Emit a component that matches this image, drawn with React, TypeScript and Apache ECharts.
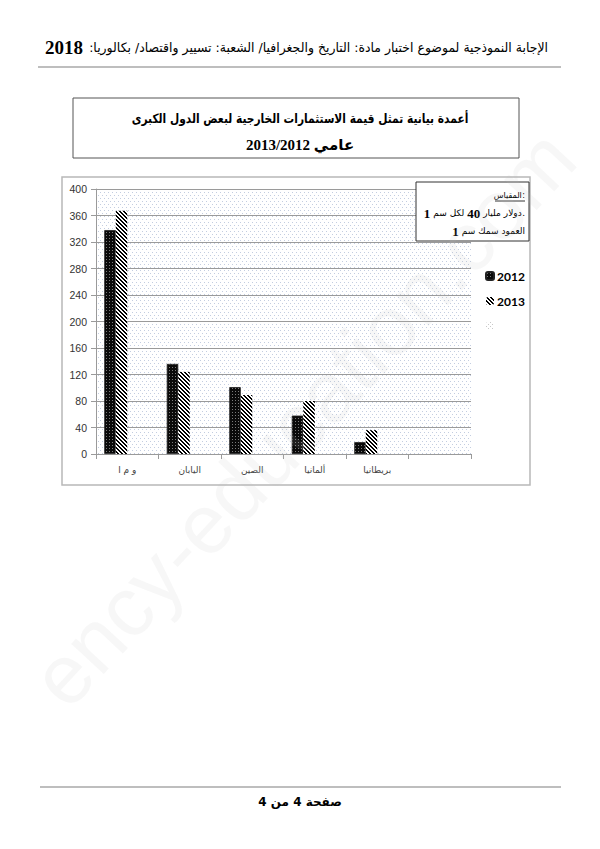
import React, { useEffect, useRef } from 'react';
import * as echarts from 'echarts';

const categories = ['و م ا', 'اليابان', 'الصين', 'ألمانيا', 'بريطانيا', ''];
const values2012 = [338, 136, 101, 58, 18, null];
const values2013 = [367, 124, 89, 80, 36, null];
const valuesBlank = [null, null, null, null, null, null];
const seriesNames = ['2012', '2013', ' '];
const yMin = 0;
const yMax = 400;
const yStep = 40;

const headerText = 'الإجابة النموذجية لموضوع اختبار مادة: التاريخ والجغرافيا/ الشعبة: تسيير واقتصاد/ بكالوريا:\u200F';
const headerYear = '2018';
const titleLine1 = 'أعمدة بيانية تمثل قيمة الاستثمارات الخارجية لبعض الدول الكبرى';
const titleLine2 = 'عامي 2013/2012';
const footerText = 'صفحة 4 من 4';
// scale box rows, tokens in visual left-to-right order
const scaleRow0 = ['المقياس', ':'];
const scaleRow1 = ['1', 'سم', 'لكل', '40', 'مليار', 'دولار', '.'];
const scaleRow2 = ['1', 'سم', 'سمك', 'العمود'];

const AR = '"DejaVu Sans"';
const SERIF = '"Liberation Serif"';

function makeCanvas(w: number, h: number, draw: (ctx: CanvasRenderingContext2D) => void) {
  const c = document.createElement('canvas');
  c.width = w;
  c.height = h;
  const ctx = c.getContext('2d')!;
  draw(ctx);
  return c;
}

function pattern(c: HTMLCanvasElement) {
  return { image: c, repeat: 'repeat', imageWidth: c.width, imageHeight: c.height } as any;
}

type Tok = { text: string; family: string; size: number; weight: string };

function rowElements(tokens: Tok[], right: number, y: number, gaps: number[], z: number) {
  const ctx = document.createElement('canvas').getContext('2d')!;
  const els: any[] = [];
  let x = right;
  for (let i = tokens.length - 1; i >= 0; i--) {
    const t = tokens[i];
    ctx.font = `${t.weight} ${t.size}px ${t.family}`;
    const w = ctx.measureText(t.text).width;
    x -= w;
    els.push({
      type: 'text', z, x, y,
      style: { text: t.text, align: 'left', verticalAlign: 'middle', fontFamily: t.family, fontSize: t.size, fontWeight: t.weight, fill: '#000' },
    });
    x -= gaps[i - 1] ?? 0;
  }
  return els;
}

function tok(text: string): Tok {
  const isNum = /^[0-9]+$/.test(text);
  return isNum
    ? { text, family: SERIF, size: 13, weight: 'bold' }
    : { text, family: AR, size: 9, weight: 'normal' };
}

export default function App() {
  const ref = useRef<HTMLDivElement>(null);

  useEffect(() => {
    const chart = echarts.init(ref.current!, null, { renderer: 'svg' });

    const bgDots = makeCanvas(4, 6, (ctx) => {
      ctx.fillStyle = '#ffffff';
      ctx.fillRect(0, 0, 4, 6);
      ctx.fillStyle = '#c3cde0';
      ctx.fillRect(0, 0, 1, 1);
      ctx.fillRect(2, 3, 1, 1);
    });
    const dark = makeCanvas(3, 3, (ctx) => {
      ctx.fillStyle = '#0a0a0a';
      ctx.fillRect(0, 0, 3, 3);
      ctx.fillStyle = '#7a7a7a';
      ctx.fillRect(1, 1, 1, 1);
    });
    const hatch = makeCanvas(4, 4, (ctx) => {
      ctx.fillStyle = '#ffffff';
      ctx.fillRect(0, 0, 4, 4);
      ctx.fillStyle = '#000000';
      for (let x = 0; x < 4; x++) {
        for (let y = 0; y < 4; y++) {
          const d = (((x - y) % 4) + 4) % 4;
          if (d < 2) ctx.fillRect(x, y, 1, 1);
        }
      }
    });
    const faint = makeCanvas(4, 4, (ctx) => {
      ctx.fillStyle = '#ffffff';
      ctx.fillRect(0, 0, 4, 4);
      ctx.fillStyle = '#c8c8c8';
      ctx.fillRect(0, 0, 1, 1);
      ctx.fillRect(2, 2, 1, 1);
    });

    const row0 = rowElements(
      [{ text: scaleRow0[0], family: AR, size: 8, weight: 'normal' }, { text: scaleRow0[1], family: AR, size: 8, weight: 'normal' }],
      525, 195, [0.5], 101
    );
    const row1 = rowElements(scaleRow1.map(tok), 525, 213, [3, 3, 3, 3, 3, 0.5], 101);
    const row2 = rowElements(scaleRow2.map(tok), 525, 231, [3, 3, 3], 101);

    const option: any = {
      animation: false,
      backgroundColor: '#ffffff',
      grid: {
        left: 96,
        top: 189,
        width: 375,
        height: 265,
        show: true,
        borderWidth: 0,
        backgroundColor: pattern(bgDots),
      },
      legend: {
        orient: 'vertical',
        left: 480,
        top: 265,
        itemWidth: 8,
        itemHeight: 8,
        itemGap: 13,
        data: seriesNames,
        textStyle: { fontFamily: 'Lato, "Liberation Sans", sans-serif', fontWeight: 'bold', fontSize: 12, color: '#000', padding: [0, 0, 0, -2] },
        selectedMode: false,
      },
      xAxis: {
        type: 'category',
        data: categories,
        axisLine: { lineStyle: { color: '#9a9a9a', width: 1 } },
        axisTick: { show: true, length: 5, lineStyle: { color: '#9a9a9a' } },
        axisLabel: { fontSize: 9, color: '#444', margin: 11, fontFamily: AR },
        splitLine: { show: false },
      },
      yAxis: {
        type: 'value',
        min: yMin,
        max: yMax,
        interval: yStep,
        axisLine: { show: true, lineStyle: { color: '#9a9a9a', width: 1 } },
        axisTick: { show: true, length: 5, lineStyle: { color: '#9a9a9a' } },
        axisLabel: { fontSize: 10.5, color: '#333', margin: 9, fontFamily: '"Liberation Sans", Arial, sans-serif' },
        splitLine: { lineStyle: { color: '#9a9a9a', width: 1 } },
      },
      series: [
        {
          name: seriesNames[0],
          type: 'bar',
          data: values2012,
          barWidth: 11.5,
          barGap: '0%',
          itemStyle: { color: pattern(dark), borderColor: '#222', borderWidth: 0.8 },
        },
        {
          name: seriesNames[1],
          type: 'bar',
          data: values2013,
          barWidth: 11.5,
          barGap: '0%',
          itemStyle: { color: pattern(hatch) },
        },
        {
          name: seriesNames[2],
          type: 'bar',
          data: valuesBlank,
          barWidth: 11.5,
          barGap: '0%',
          itemStyle: { color: pattern(faint) },
        },
        {
          name: '_pad',
          type: 'bar',
          data: valuesBlank,
          barWidth: 11.5,
          barGap: '0%',
          itemStyle: { color: 'transparent' },
        },
      ],
      graphic: [
        // header
        {
          type: 'text', x: 548, y: 47, scaleX: 0.96,
          style: { text: headerText, align: 'right', verticalAlign: 'middle', fontFamily: AR, fontSize: 13, fill: '#000' },
        },
        {
          type: 'text', x: 45, y: 47,
          style: { text: headerYear, align: 'left', verticalAlign: 'middle', fontFamily: SERIF, fontSize: 19, fontWeight: 'bold', fill: '#000' },
        },
        { type: 'line', shape: { x1: 38, y1: 67, x2: 561, y2: 67 }, style: { stroke: '#a8a8a8', lineWidth: 1.5 } },
        // title box
        { type: 'rect', shape: { x: 73, y: 98, width: 446, height: 60 }, style: { fill: '#fff', stroke: '#555', lineWidth: 1 } },
        {
          type: 'text', x: 300, y: 119, scaleX: 0.82,
          style: { text: titleLine1, align: 'center', verticalAlign: 'middle', fontFamily: AR, fontWeight: 'bold', fontSize: 13, fill: '#000' },
        },
        {
          type: 'text', x: 300, y: 145,
          style: { text: titleLine2, align: 'center', verticalAlign: 'middle', fontFamily: `${SERIF}, ${AR}`, fontWeight: 'bold', fontSize: 15, fill: '#000' },
        },
        // chart frame
        { type: 'rect', z: -10, shape: { x: 62, y: 177, width: 468, height: 308 }, style: { fill: 'none', stroke: '#b8b8b8', lineWidth: 1.5 } },
        // scale box
        { type: 'rect', z: 100, shape: { x: 416, y: 182, width: 113, height: 59 }, style: { fill: '#fff', stroke: '#333', lineWidth: 1 } },
        ...row0,
        { type: 'line', z: 101, shape: { x1: 495, y1: 201, x2: 525, y2: 201 }, style: { stroke: '#000', lineWidth: 0.8 } },
        ...row1,
        ...row2,
        // footer
        { type: 'line', shape: { x1: 40, y1: 787, x2: 561, y2: 787 }, style: { stroke: '#a8a8a8', lineWidth: 1.5 } },
        {
          type: 'text', x: 300, y: 802,
          style: { text: footerText, align: 'center', verticalAlign: 'middle', fontFamily: AR, fontWeight: 'bold', fontSize: 12, fill: '#000' },
        },
        // watermark
        {
          type: 'text', z: 200, silent: true, x: 303, y: 418, rotation: (47 * Math.PI) / 180,
          style: { text: 'ency-education.com', align: 'center', verticalAlign: 'middle', fontFamily: '"Liberation Sans", Arial, sans-serif', fontSize: 84, fill: 'rgba(190,190,190,0.12)' },
        },
      ],
    };

    chart.setOption(option);
    return () => chart.dispose();
  }, []);

  return <div ref={ref} style={{ position: 'fixed', left: 0, top: 0, width: 600, height: 849, background: '#fff' }} />;
}
